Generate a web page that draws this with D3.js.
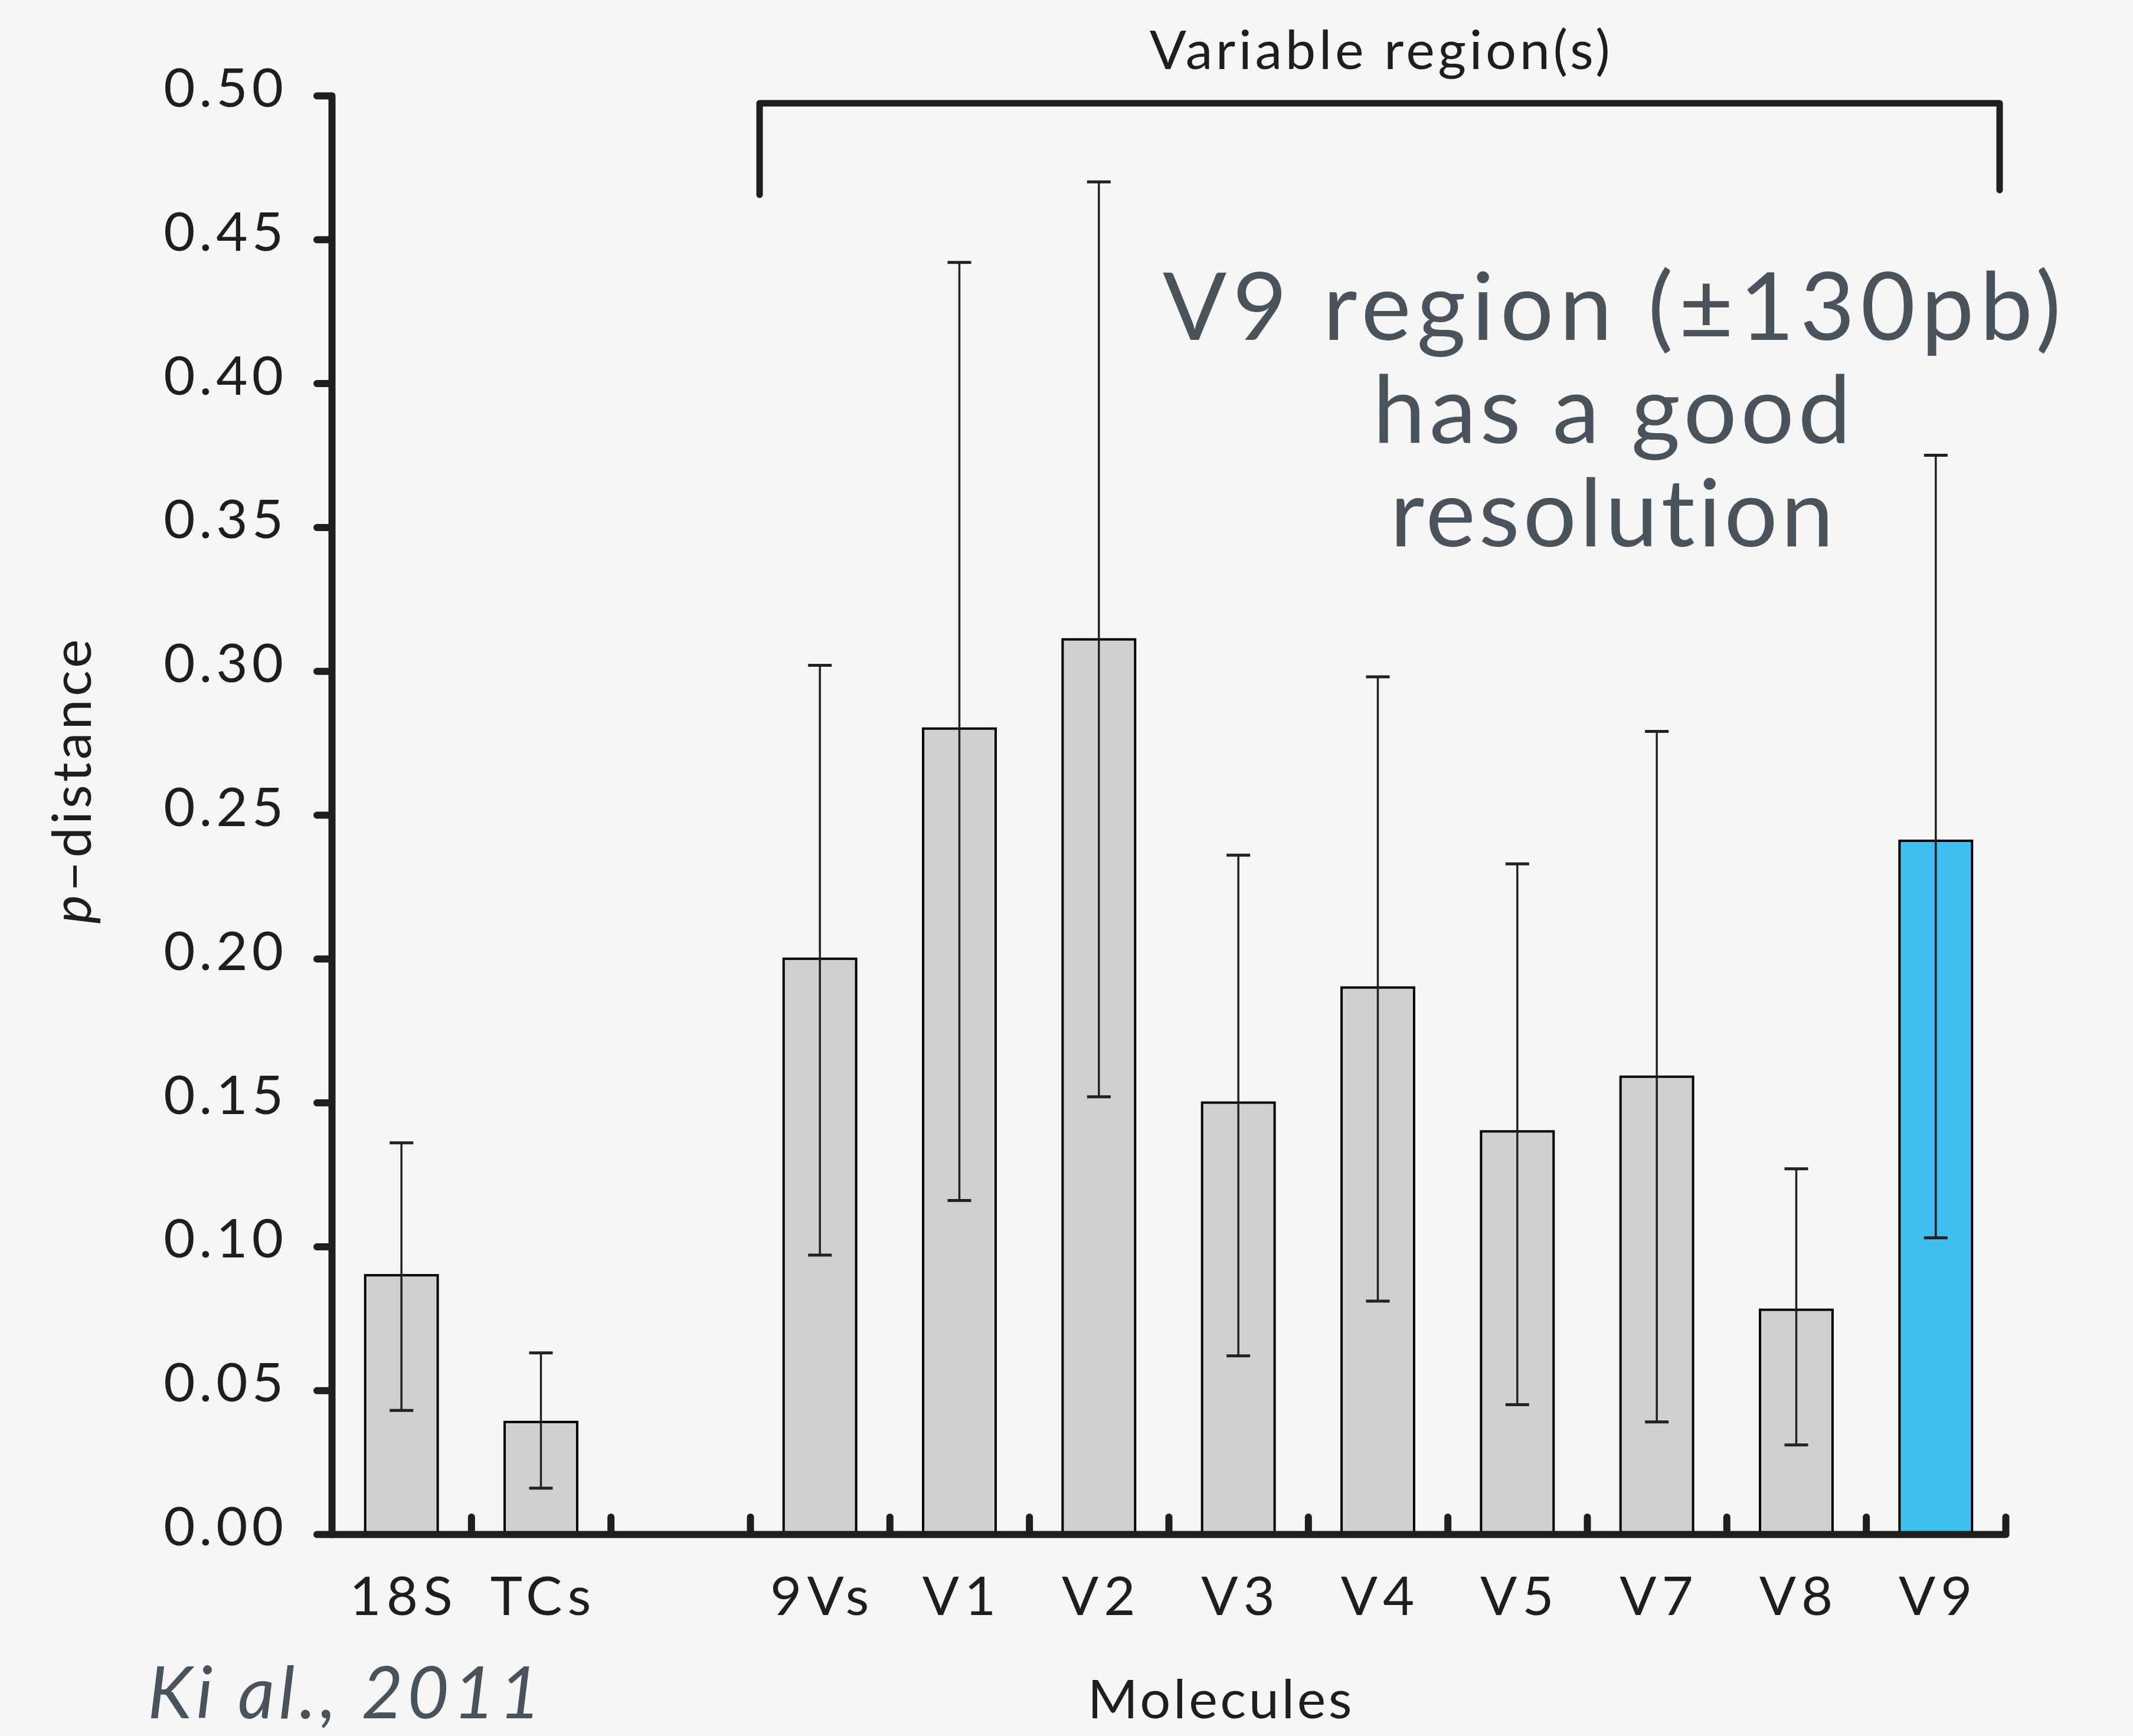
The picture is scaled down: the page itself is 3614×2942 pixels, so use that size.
<!DOCTYPE html>
<html>
<head>
<meta charset="utf-8">
<script src="https://cdn.jsdelivr.net/npm/d3@7"></script>
<style>
  html, body { margin: 0; padding: 0; background: #f6f6f6; }
  svg { display: block; }
  text { font-family: Lato, "Open Sans", sans-serif; font-variant-ligatures: none; }
</style>
</head>
<body>
<svg id="chart" width="3614" height="2942"></svg>
<script>
// ---------------- data ----------------
const categories = ["18S", "TCs", "", "9Vs", "V1", "V2", "V3", "V4", "V5", "V7", "V8", "V9"];
const values     = [0.090, 0.039, null, 0.200, 0.280, 0.311, 0.150, 0.190, 0.140, 0.159, 0.078, 0.241];
const errLow     = [0.043, 0.016, null, 0.097, 0.116, 0.152, 0.062, 0.081, 0.045, 0.039, 0.031, 0.103];
const errHigh    = [0.136, 0.063, null, 0.302, 0.442, 0.470, 0.236, 0.298, 0.233, 0.279, 0.127, 0.375];
const highlight  = ["V9"];
const yTicks     = [0, 0.05, 0.10, 0.15, 0.20, 0.25, 0.30, 0.35, 0.40, 0.45, 0.50];
const bracketFrom = "9Vs", bracketTo = "V9";
const bracketLabel = "Variable region(s)";
const annotationLines = ["V9 region (\u00B1130pb)", "has a good", "resolution"];
const xTitle = "Molecules";
const citation = "Ki al., 2011";

// ---------------- layout ----------------
const svg = d3.select("#chart");
const X0 = 562, X1 = 3398, Y0 = 2600, Y1 = 162;
const ink = "#1e1e1c";
const noteColor = "#4a535b";

const slot = categories.map((c, i) => "s" + i);
const x = d3.scaleBand().domain(slot).range([X0, X1]).paddingInner(0.48).paddingOuter(0.24);
const xb = d3.scaleLinear().domain([0, categories.length]).range([X0, X1]);
const y = d3.scaleLinear().domain([0, 0.5]).range([Y0, Y1]);

const data = categories.map((c, i) => ({c, k: slot[i], v: values[i], lo: errLow[i], hi: errHigh[i]}))
  .filter(d => d.v !== null);

// bars
svg.append("g").selectAll("rect").data(data).join("rect")
  .attr("x", d => x(d.k))
  .attr("y", d => y(d.v))
  .attr("width", x.bandwidth())
  .attr("height", d => y(0) - y(d.v))
  .attr("fill", d => highlight.includes(d.c) ? "#40bfef" : "#d0d0d0")
  .attr("stroke", "#000")
  .attr("stroke-width", 4);

// error bars
const eb = svg.append("g").attr("stroke", "#222").attr("stroke-width", 3.5);
const capW = 20;
data.forEach(d => {
  const cx = x(d.k) + x.bandwidth() / 2;
  eb.append("line").attr("x1", cx).attr("x2", cx).attr("y1", y(d.lo)).attr("y2", y(d.hi));
  eb.append("line").attr("x1", cx - capW).attr("x2", cx + capW).attr("y1", y(d.hi)).attr("y2", y(d.hi)).attr("stroke-width", 5);
  eb.append("line").attr("x1", cx - capW).attr("x2", cx + capW).attr("y1", y(d.lo)).attr("y2", y(d.lo)).attr("stroke-width", 5);
});

// y axis
const yAxis = svg.append("g").attr("transform", `translate(${X0},0)`)
  .call(d3.axisLeft(y).tickValues(yTicks).tickFormat(d3.format(".2f")).tickSize(25).tickSizeOuter(0).tickPadding(30));
yAxis.select(".domain").attr("stroke", ink).attr("stroke-width", 12).attr("stroke-linecap", "round");
yAxis.selectAll(".tick line").attr("stroke", ink).attr("stroke-width", 12).attr("stroke-linecap", "round");
yAxis.selectAll(".tick text").attr("fill", ink).attr("font-size", 92).attr("dy", "0.20em")
  .attr("x", -75).attr("letter-spacing", 7);

// x axis: boundary ticks
const xAxisB = svg.append("g").attr("transform", `translate(0,${Y0})`)
  .call(d3.axisBottom(xb).tickValues(d3.range(1, categories.length + 1)).tickSize(-29).tickSizeOuter(0).tickFormat(""));
xAxisB.select(".domain").attr("stroke", ink).attr("stroke-width", 12).attr("stroke-linecap", "round");
xAxisB.selectAll(".tick line").attr("stroke", ink).attr("stroke-width", 12).attr("stroke-linecap", "round");

// x axis: category labels
const xAxisL = svg.append("g").attr("transform", `translate(0,${Y0})`)
  .call(d3.axisBottom(x).tickSize(0).tickPadding(72).tickFormat((k, i) => categories[i]));
xAxisL.select(".domain").remove();
xAxisL.selectAll(".tick text").attr("fill", ink).attr("font-size", 92).attr("dy", "0.71em")
  .attr("letter-spacing", 9).attr("dx", 4);

// y title
svg.append("text")
  .attr("transform", `translate(154,1322) rotate(-90)`)
  .attr("text-anchor", "middle").attr("fill", ink).attr("font-size", 92).attr("letter-spacing", 5)
  .call(t => { t.append("tspan").attr("font-style", "italic").text("p"); t.append("tspan").text("\u2013distance"); });

// x title
svg.append("text").attr("x", 2069).attr("y", 2912).attr("text-anchor", "middle")
  .attr("fill", ink).attr("font-size", 92).attr("letter-spacing", 4.5).text(xTitle);

// bracket
const bL = x("s" + categories.indexOf(bracketFrom)) - x.step() * 0.24 + 16;
const bR = x("s" + categories.indexOf(bracketTo)) + x.bandwidth() + x.step() * 0.24 - 10;
const bY = 175;
svg.append("path")
  .attr("d", `M${bL},330 V${bY} H${bR} V322`)
  .attr("fill", "none").attr("stroke", ink).attr("stroke-width", 11).attr("stroke-linecap", "round").attr("stroke-linejoin", "round");
svg.append("text").attr("x", (bL + bR) / 2 + 3).attr("y", 117).attr("text-anchor", "middle")
  .attr("fill", ink).attr("font-size", 92).attr("letter-spacing", 5.5).text(bracketLabel);

// annotation
const noteSpacing = [9.8, 6.4, 5.5];
svg.append("g").selectAll("text").data(annotationLines).join("text")
  .attr("x", (d, i) => 2731 + noteSpacing[i] / 2).attr("y", (d, i) => 576 + i * 175)
  .attr("text-anchor", "middle").attr("fill", noteColor).attr("font-size", 160)
  .attr("letter-spacing", (d, i) => noteSpacing[i])
  .text(d => d);

// citation
svg.append("text").attr("x", 250).attr("y", 2912).attr("fill", noteColor)
  .attr("font-size", 122).attr("font-style", "italic").attr("letter-spacing", 7).text(citation);
</script>
</body>
</html>
